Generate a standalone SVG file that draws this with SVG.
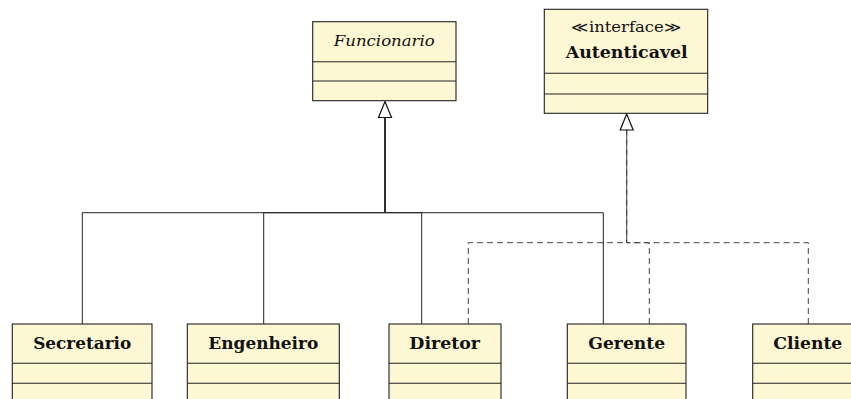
<svg xmlns="http://www.w3.org/2000/svg" width="851" height="399" viewBox="0 0 851 399">
  <style>
    .box { fill: #fdf7d4; stroke: #222; stroke-width: 1.1; }
    .sep { stroke: #222; stroke-width: 1.1; }
    .name { font-family: "DejaVu Serif", serif; font-weight: bold; font-size: 16px; fill: #111; text-anchor: middle; }
    .abs { font-family: "DejaVu Serif", serif; font-style: italic; font-size: 14px; fill: #111; text-anchor: middle; }
    .stereo { font-family: "DejaVu Serif", serif; font-size: 14px; fill: #111; text-anchor: middle; }
    .gen { fill: none; stroke: #222; stroke-width: 1; }
    .real { fill: none; stroke: #444; stroke-width: 1; stroke-dasharray: 6 4; }
    .head { fill: #fff; stroke: #111; stroke-width: 1.2; }
  </style>

  <!-- connectors -->
  <g id="connectors">
    <!-- generalization to Funcionario -->
    <path class="gen" d="M82.3 324 V212.7 H385 V117"/>
    <path class="gen" d="M263.7 324 V212.7 H385 V117"/>
    <path class="gen" d="M421.7 324 V212.7 H385 V117"/>
    <path class="gen" d="M603.3 324 V212.7 H385 V117"/>
    <polygon class="head" points="385,101.5 378.5,117.5 391.5,117.5"/>
    <!-- realization of Autenticavel -->
    <path class="real" d="M468.3 324 V242.7 H626.7 V130"/>
    <path class="real" d="M649.3 324 V242.7 H626.7 V130"/>
    <path class="real" d="M808.3 324 V242.7 H626.7 V130"/>
    <polygon class="head" points="626.7,114 620.2,130 633.2,130"/>
  </g>

  <!-- abstract class -->
  <g id="funcionario">
    <rect class="box" x="312.7" y="21.7" width="143.3" height="79"/>
    <line class="sep" x1="312.7" y1="61.7" x2="456" y2="61.7"/>
    <line class="sep" x1="312.7" y1="81" x2="456" y2="81"/>
    <text class="abs" x="384.3" y="46" textLength="101" lengthAdjust="spacingAndGlyphs">Funcionario</text>
  </g>

  <!-- interface -->
  <g id="autenticavel">
    <rect class="box" x="544.3" y="9.3" width="163.4" height="104"/>
    <line class="sep" x1="544.3" y1="73.3" x2="707.7" y2="73.3"/>
    <line class="sep" x1="544.3" y1="94" x2="707.7" y2="94"/>
    <text class="stereo" x="626.3" y="31.7" textLength="110" lengthAdjust="spacingAndGlyphs">≪interface≫</text>
    <text class="name" x="626.7" y="58" textLength="122" lengthAdjust="spacingAndGlyphs">Autenticavel</text>
  </g>

  <!-- concrete classes -->
  <g id="secretario">
    <rect class="box" x="12.3" y="324" width="139.7" height="90"/>
    <line class="sep" x1="12.3" y1="363.3" x2="152" y2="363.3"/>
    <line class="sep" x1="12.3" y1="383.3" x2="152" y2="383.3"/>
    <text class="name" x="82.2" y="349.3" textLength="98" lengthAdjust="spacingAndGlyphs">Secretario</text>
  </g>

  <g id="engenheiro">
    <rect class="box" x="187.3" y="324" width="152" height="90"/>
    <line class="sep" x1="187.3" y1="363.3" x2="339.3" y2="363.3"/>
    <line class="sep" x1="187.3" y1="383.3" x2="339.3" y2="383.3"/>
    <text class="name" x="263.3" y="349.3" textLength="110" lengthAdjust="spacingAndGlyphs">Engenheiro</text>
  </g>

  <g id="diretor">
    <rect class="box" x="389" y="324" width="112" height="90"/>
    <line class="sep" x1="389" y1="363.3" x2="501" y2="363.3"/>
    <line class="sep" x1="389" y1="383.3" x2="501" y2="383.3"/>
    <text class="name" x="444.7" y="349.3" textLength="70.7" lengthAdjust="spacingAndGlyphs">Diretor</text>
  </g>

  <g id="gerente">
    <rect class="box" x="567.3" y="324" width="118.7" height="90"/>
    <line class="sep" x1="567.3" y1="363.3" x2="686" y2="363.3"/>
    <line class="sep" x1="567.3" y1="383.3" x2="686" y2="383.3"/>
    <text class="name" x="626.7" y="349.3" textLength="76.7" lengthAdjust="spacingAndGlyphs">Gerente</text>
  </g>

  <g id="cliente">
    <rect class="box" x="752.7" y="324" width="111.3" height="90"/>
    <line class="sep" x1="752.7" y1="363.3" x2="864" y2="363.3"/>
    <line class="sep" x1="752.7" y1="383.3" x2="864" y2="383.3"/>
    <text class="name" x="807.8" y="349.3" textLength="69" lengthAdjust="spacingAndGlyphs">Cliente</text>
  </g>
</svg>
